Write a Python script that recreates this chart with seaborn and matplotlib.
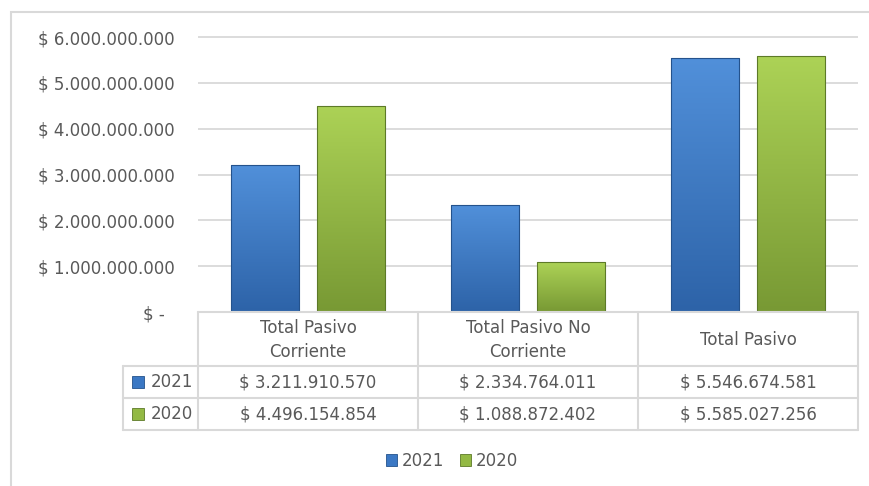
import numpy as np
import pandas as pd
import seaborn as sns
import matplotlib.pyplot as plt
from matplotlib.patches import Patch, Rectangle
from matplotlib.colors import to_rgb

# datos
categorias = ['Total Pasivo\nCorriente', 'Total Pasivo No\nCorriente', 'Total Pasivo']
anios = ['2021', '2020']
v2021 = [3211910570, 2334764011, 5546674581]
v2020 = [4496154854, 1088872402, 5585027256]
yticks = [0, 1e9, 2e9, 3e9, 4e9, 5e9, 6e9]

colores = {'2021': '#3b78c4', '2020': '#93b944'}
grad = {'2021': ('#5190da', '#2d63a8'), '2020': ('#acd256', '#789934')}
bordes = {'2021': '#24528c', '2020': '#5d7a28'}
gris = '#595959'
linea = '#d9d9d9'
fs = 12

df = pd.DataFrame({
    'cat': categorias * 2,
    'valor': v2021 + v2020,
    'anio': ['2021'] * 3 + ['2020'] * 3,
})

sns.set_style('white')
plt.rcParams['font.family'] = ['DejaVu Sans']

fig = plt.figure(figsize=(8.7, 4.86), dpi=100)
ax = fig.add_axes([198 / 870, 1 - 312 / 486, 660 / 870, 282 / 486])

sns.barplot(data=df, x='cat', y='valor', hue='anio', hue_order=anios,
            palette=colores, width=0.773, gap=0.2, ax=ax, legend=False,
            saturation=1)

ytop = 6e9 * 282 / 275
ax.set_axisbelow(True)
ax.yaxis.grid(True, color=linea, lw=1.3)
ax.set_yticks(yticks)
ax.set_yticklabels(['$ -  '] + [('$ {:,}'.format(int(t))).replace(',', '.') for t in yticks[1:]])
ax.tick_params(axis='y', length=0, pad=16.5, labelsize=fs, labelcolor=gris)
ax.set_xticks([])
ax.set_xlabel('')
ax.set_ylabel('')
sns.despine(ax=ax, left=True, bottom=True)

# barras con degradado
g = np.linspace(0, 1, 100)[:, None, None]
for anio, cont in zip(anios, ax.containers):
    c1, c2 = grad[anio]
    img = np.array(to_rgb(c1)) * (1 - g) + np.array(to_rgb(c2)) * g
    img = np.repeat(img, 2, axis=1)
    for bar in cont:
        x, w, h = bar.get_x(), bar.get_width(), bar.get_height()
        bar.set_facecolor('none')
        bar.set_edgecolor(bordes[anio])
        bar.set_linewidth(0.8)
        bar.set_zorder(3)
        im = ax.imshow(img, extent=[x, x + w, 0, h], aspect='auto', zorder=2.5,
                       origin='upper')
        im.set_clip_path(bar)
ax.set_ylim(0, ytop)
ax.set_xlim(-0.5, 2.5)

# tabla de datos (en pixeles -> coordenadas del eje)
px = lambda v: (v - 198) / 660
py = lambda v: (312 - v) / 282
fmt = lambda v: ('$ {:,}'.format(v)).replace(',', '.')
kw = dict(transform=ax.transAxes, clip_on=False, color=linea, lw=1.5, zorder=5)
col_x = [198, 418, 638, 858]
ax.plot([px(198), px(858)], [py(312)] * 2, **kw)
for yy in [366, 398, 430]:
    ax.plot([px(123), px(858)], [py(yy)] * 2, **kw)
ax.plot([px(123)] * 2, [py(366), py(430)], **kw)
for xx in col_x:
    ax.plot([px(xx)] * 2, [py(312), py(430)], **kw)

for j, c in enumerate(categorias):
    xc = (col_x[j] + col_x[j + 1]) / 2
    ax.text(px(xc), py(340), c, ha='center', va='center', fontsize=fs, color=gris,
            linespacing=1.4, transform=ax.transAxes)
for i, (anio, vals) in enumerate(zip(anios, [v2021, v2020])):
    yc = 382 + 32 * i
    ax.text(px(193), py(yc), anio, ha='right', va='center', fontsize=fs, color=gris,
            transform=ax.transAxes)
    ax.plot([px(137.5)], [py(yc)], marker='s', ms=8.5, color=colores[anio],
            mec=bordes[anio], mew=0.6, transform=ax.transAxes, clip_on=False)
    for j, v in enumerate(vals):
        xc = (col_x[j] + col_x[j + 1]) / 2
        ax.text(px(xc), py(yc), fmt(v), ha='center', va='center', fontsize=fs,
                color=gris, transform=ax.transAxes)

handles = [Patch(facecolor=colores[a], edgecolor=bordes[a], lw=0.6) for a in anios]
fig.legend(handles, anios, loc='center', bbox_to_anchor=(452 / 870, 1 - 461 / 486),
           ncol=2, frameon=False, handlelength=0.7, handleheight=0.7,
           handletextpad=0.3, columnspacing=0.9, fontsize=fs, labelcolor=gris)

# marco del grafico
fig.add_artist(Rectangle((11 / 870, -0.1), 1.0, (486 - 12) / 486 + 0.1,
                         transform=fig.transFigure, fill=False, edgecolor=linea, lw=1.5))

plt.savefig('out.png', dpi=100)
